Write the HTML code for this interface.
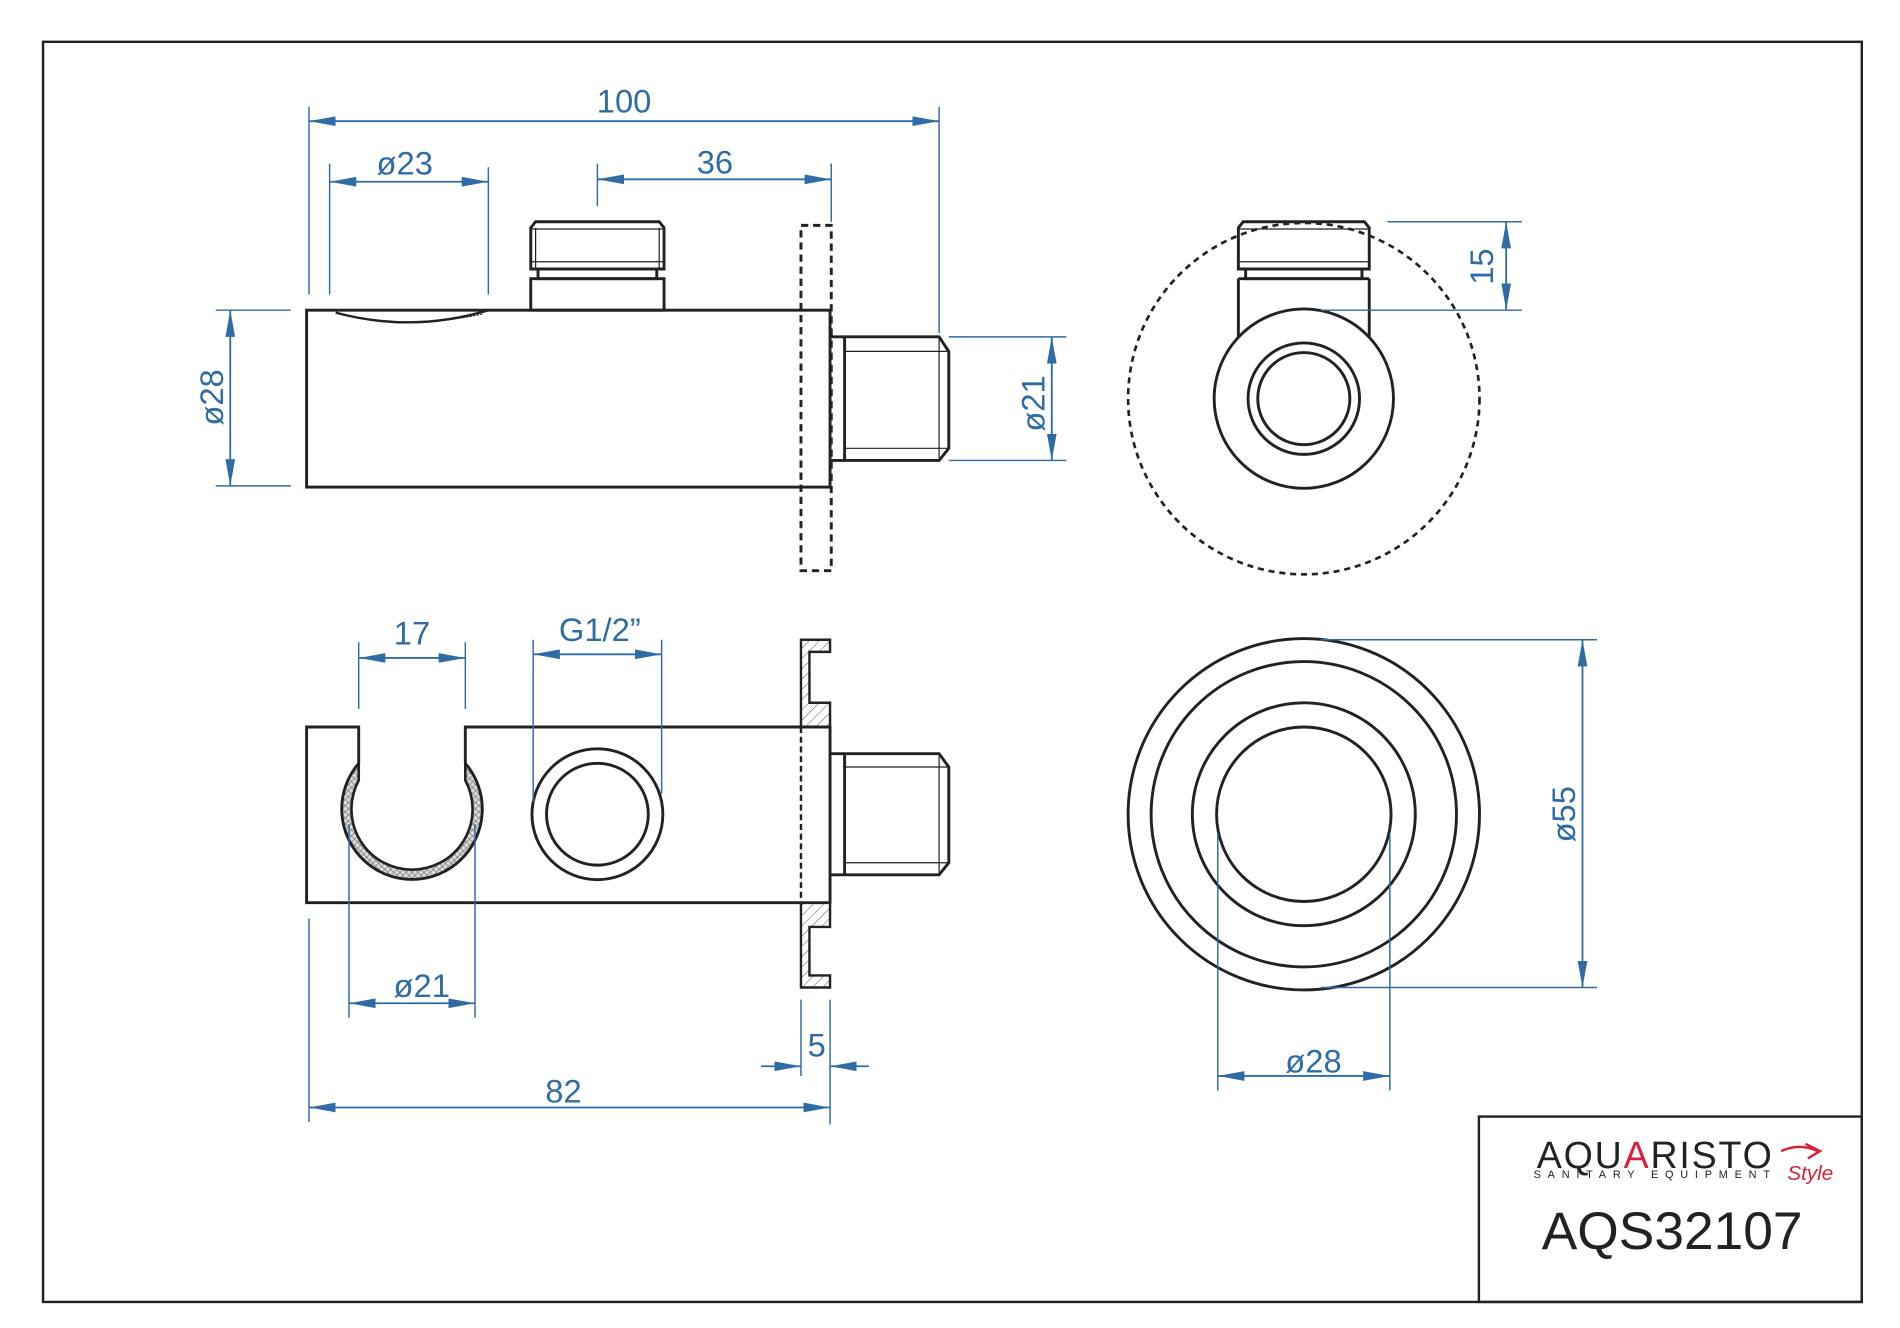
<!DOCTYPE html>
<html><head><meta charset="utf-8"><style>
html,body{margin:0;padding:0;background:#fff;}
svg{display:block;}
text{font-family:"Liberation Sans",sans-serif;}
</style></head><body>
<svg width="1900" height="1328" viewBox="0 0 1568 1096" xmlns="http://www.w3.org/2000/svg">
<defs>
<marker id="a" viewBox="0 0 10 10" refX="10" refY="5" markerWidth="22" markerHeight="8" markerUnits="userSpaceOnUse" orient="auto-start-reverse" preserveAspectRatio="none"><path d="M0,0 L10,5 L0,10 Z" fill="#2f6ca6"/></marker>
<pattern id="xh" width="5" height="5" patternUnits="userSpaceOnUse"><rect width="5" height="5" fill="#ddd"/><path d="M0,0 L5,5 M5,0 L0,5" stroke="#777" stroke-width="0.6"/></pattern>
<pattern id="dh" width="6" height="6" patternUnits="userSpaceOnUse" patternTransform="rotate(45)"><line x1="0" y1="0" x2="0" y2="6" stroke="#555" stroke-width="0.8"/></pattern>
</defs>
<rect x="0" y="0" width="1568" height="1096" fill="#fff"/>
<rect x="35.5" y="34.5" width="1501" height="1040" fill="none" stroke="#222" stroke-width="2"/>
<rect x="1220.5" y="921.5" width="316" height="153" fill="none" stroke="#222" stroke-width="2"/>

<g fill="none" stroke="#222" stroke-width="2.4">
<rect x="253" y="256" width="432" height="146"/>
<path d="M277,258 Q340,275 403,256" stroke-width="2"/>
<path d="M283,260 Q340,272 399,259" stroke-width="0.8" stroke-dasharray="2,1"/>
<path d="M442,183 H544 L548,188 V222 H438 V188 Z"/>
<line x1="438" y1="189" x2="548" y2="189" stroke-width="1"/>
<line x1="438" y1="216" x2="548" y2="216" stroke-width="1"/>
<line x1="442" y1="188" x2="442" y2="222" stroke-width="1"/>
<line x1="544" y1="188" x2="544" y2="222" stroke-width="1"/>
<rect x="444" y="222" width="98" height="8"/>
<rect x="438" y="230" width="110" height="26"/>
<rect x="661" y="186" width="25" height="285" stroke-dasharray="6,4"/>
<path d="M686,278 H775 L783,290 V370 L775,380 H686"/>
<line x1="697" y1="278" x2="697" y2="380"/>
<line x1="697" y1="290" x2="783" y2="290" stroke-width="1"/>
<line x1="697" y1="370" x2="783" y2="370" stroke-width="1"/>
<line x1="775" y1="278" x2="775" y2="380" stroke-width="1"/>

<circle cx="1076" cy="329" r="145" stroke-dasharray="5,4" stroke-width="2.2"/>
<path d="M1026,183 H1126 L1130,188 V222 H1022 V188 Z"/>
<line x1="1022" y1="189" x2="1130" y2="189" stroke-width="1"/>
<line x1="1022" y1="216" x2="1130" y2="216" stroke-width="1"/>
<rect x="1028" y="222" width="96" height="8"/>
<path d="M1022,230 V280 M1130,230 V280 M1022,230 H1130"/>
<circle cx="1076" cy="329" r="74" fill="#fff"/>
<circle cx="1076" cy="329" r="46"/>
<circle cx="1076" cy="329" r="38"/>

<path d="M296,630 A58,58 0 1 0 384,630 L384,644 A50,50 0 1 1 296,644 Z" fill="url(#xh)" stroke="none"/>
<path d="M253,600 H296 V630 A58,58 0 1 0 384,630 V600 H685 V745 H253 Z"/>
<path d="M296,630 V644 A50,50 0 1 0 384,644 V630" stroke-width="2.2"/>
<line x1="661" y1="600" x2="661" y2="745" stroke-dasharray="5,3" stroke-width="2"/>
<circle cx="493" cy="672" r="54"/>
<circle cx="493" cy="672" r="42"/>
<path d="M661,528 H685 V538 H668 V580 H685 V600 H661 Z" fill="url(#dh)" stroke-width="2"/>
<path d="M661,745 H685 V765 H668 V805 H685 V815 H661 Z" fill="url(#dh)" stroke-width="2"/>
<path d="M686,622 H775 L783,633 V712 L775,722 H686"/>
<line x1="697" y1="622" x2="697" y2="722"/>
<line x1="697" y1="633" x2="783" y2="633" stroke-width="1"/>
<line x1="697" y1="712" x2="783" y2="712" stroke-width="1"/>
<line x1="775" y1="622" x2="775" y2="722" stroke-width="1"/>

<circle cx="1076" cy="672" r="145"/>
<circle cx="1076" cy="672" r="126"/>
<circle cx="1076" cy="672" r="92"/>
<circle cx="1076" cy="672" r="72"/>
</g>

<g stroke="#2f6ca6" stroke-width="1.2" fill="none">
<path d="M255,88 V243 M775,88 V275 M272,135 V243 M403,138 V243 M493,135 V170 M686,135 V183"/>
<path d="M178,256 H240 M178,401 H240 M783,278 H880 M783,380 H880"/>
<path d="M1145,183 H1256 M1090,256 H1256"/>
<path d="M296,530 V585 M384,530 V585 M440,528 V662 M546,528 V655"/>
<path d="M288,680 V840 M392,680 V840 M255,758 V926 M685,825 V928 M661,825 V888"/>
<path d="M1090,528 H1318 M1090,815 H1318 M1005,688 V900 M1147,688 V900"/>
</g>
<g stroke="#2f6ca6" stroke-width="1.5" fill="none">
<line x1="255" y1="100" x2="775" y2="100" marker-start="url(#a)" marker-end="url(#a)"/>
<line x1="272" y1="150" x2="403" y2="150" marker-start="url(#a)" marker-end="url(#a)"/>
<line x1="493" y1="148" x2="686" y2="148" marker-start="url(#a)" marker-end="url(#a)"/>
<line x1="190" y1="256" x2="190" y2="401" marker-start="url(#a)" marker-end="url(#a)"/>
<line x1="868" y1="278" x2="868" y2="380" marker-start="url(#a)" marker-end="url(#a)"/>
<line x1="1243" y1="183" x2="1243" y2="256" marker-start="url(#a)" marker-end="url(#a)"/>
<line x1="296" y1="543" x2="384" y2="543" marker-start="url(#a)" marker-end="url(#a)"/>
<line x1="440" y1="540" x2="546" y2="540" marker-start="url(#a)" marker-end="url(#a)"/>
<line x1="288" y1="828" x2="392" y2="828" marker-start="url(#a)" marker-end="url(#a)"/>
<line x1="255" y1="914" x2="685" y2="914" marker-start="url(#a)" marker-end="url(#a)"/>
<line x1="628" y1="880" x2="661" y2="880" marker-end="url(#a)"/>
<line x1="717" y1="880" x2="685" y2="880" marker-end="url(#a)"/>
<line x1="1306" y1="528" x2="1306" y2="815" marker-start="url(#a)" marker-end="url(#a)"/>
<line x1="1005" y1="888" x2="1147" y2="888" marker-start="url(#a)" marker-end="url(#a)"/>
</g>
<g fill="#2f6ca6" font-size="27" text-anchor="middle">
<text x="515" y="93">100</text>
<text x="334" y="144">ø23</text>
<text x="590" y="143">36</text>
<text transform="translate(184,328) rotate(-90)">ø28</text>
<text transform="translate(862,333) rotate(-90)">ø21</text>
<text transform="translate(1232,220) rotate(-90)">15</text>
<text x="340" y="532">17</text>
<text x="495" y="529">G1/2”</text>
<text x="348" y="823">ø21</text>
<text x="465" y="910">82</text>
<text x="674" y="872">5</text>
<text transform="translate(1300,672) rotate(-90)">ø55</text>
<text x="1084" y="885">ø28</text>
</g>
<g text-anchor="middle">
<text x="1366" y="964" font-size="31" fill="#222" letter-spacing="1.5">AQU<tspan fill="#d8203a">A</tspan>RISTO</text>
<text x="1366" y="972" font-size="9" fill="#222" letter-spacing="5.6">SANITARY EQUIPMENT</text>
<text x="1494" y="974" font-size="17" font-style="italic" fill="#d8203a">Style</text>
<path d="M1470,950 Q1485,943 1500,950 M1490,944 L1502,950 L1492,956" stroke="#d8203a" stroke-width="2" fill="none"/>
<text x="1380" y="1031" font-size="44" fill="#222">AQS32107</text>
</g>
</svg>
</body></html>
